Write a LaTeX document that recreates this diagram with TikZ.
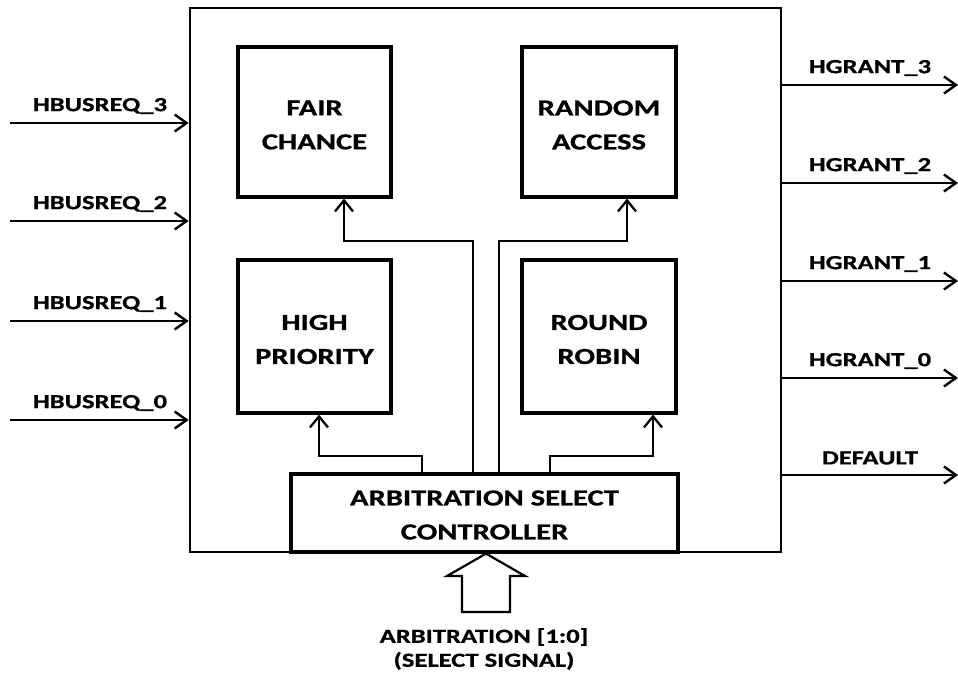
\documentclass[tikz,border=0pt]{standalone}
\usepackage{fontspec}
\setmainfont{Carlito}[FakeStretch=1.33,BoldFeatures={FakeBold=0.7}]
\usetikzlibrary{arrows.meta}
\begin{document}
\begin{tikzpicture}[x=1pt,y=-1pt,
  block/.style={draw,line width=3.2pt,inner sep=0pt},
  blocktext/.style={align=center,inner sep=0pt,
    font=\fontsize{23}{34}\selectfont\bfseries},
  frame/.style={draw,line width=2.6pt,inner sep=0pt},
  sig/.style={line width=2.3pt,-{Straight Barb[length=11pt,width=18pt,line width=2.3pt]}},
  wire/.style={line width=2.4pt,-{Straight Barb[length=12pt,width=17pt,line width=2.4pt]}},
  lbl/.style={font=\fontsize{20}{24}\selectfont\bfseries,inner sep=0pt}]
\useasboundingbox (0,0) rectangle (958,672);
\fill[white] (0,0) rectangle (958,672);

% outer arbiter frame
\node[frame,minimum width=591pt,minimum height=544pt] (outer) at (485.5,280) {};

% arbitration schemes
\node[block,minimum width=153pt,minimum height=150pt] (fair) at (314.5,122) {};
\node[block,minimum width=154pt,minimum height=150pt] (rand) at (599,122) {};
\node[block,minimum width=153pt,minimum height=153pt] (high) at (314.5,336.5) {};
\node[block,minimum width=154pt,minimum height=153pt] (rr) at (599,336.5) {};
\node[block,minimum width=387pt,minimum height=78pt] (ctrl) at (484.5,513) {};
\node[blocktext] (fairt) at ([yshift=-3pt]fair.center) {FAIR\\CHANCE};
\node[blocktext] (randt) at ([yshift=-3pt]rand.center) {RANDOM\\ACCESS};
\node[blocktext] (hight) at ([yshift=-3pt]high.center) {HIGH\\PRIORITY};
\node[blocktext] (rrt) at ([yshift=-3pt]rr.center) {ROUND\\ROBIN};
\node[blocktext] (ctrlt) at ([yshift=-2pt]ctrl.center) {ARBITRATION SELECT\\CONTROLLER};

% select lines from the controller
\draw[sig] (ctrl.north -| 473,0) |- (344,241) -- (fair.south -| 344,0);
\draw[sig] (ctrl.north -| 499,0) |- (627,241) -- (rand.south -| 627,0);
\draw[sig] (ctrl.north -| 422,0) |- (319,456) -- (high.south -| 319,0);
\draw[sig] (ctrl.north -| 550,0) |- (653,456) -- (rr.south -| 653,0);

% bus request inputs
\foreach \n/\y/\ly in {3/123/106, 2/221/204, 1/321/304, 0/420/403}{
  \coordinate (req\n) at (10,\y);
  \draw[wire] (req\n) -- (req\n -| outer.west);
  \node[lbl] at (100,\ly) {HBUSREQ\_\n};
}

% grant outputs
\foreach \n/\t/\y/\ly in {g3/HGRANT\_3/85/68, g2/HGRANT\_2/183/166, g1/HGRANT\_1/281/264, g0/HGRANT\_0/378/361, gd/DEFAULT/475/458}{
  \coordinate (\n) at (958,\y);
  \draw[wire] (\n -| outer.east) -- (\n);
  \node[lbl] at (870,\ly) {\t};
}

% select signal input (hollow arrow)
\draw[line width=2.2pt,line join=miter,fill=white]
  (ctrl.south -| 486,0) -- (525,576) -- (510,576) -- (510,612) -- (462,612)
  -- (462,576) -- (447,576) -- cycle;
\node[lbl,align=center] (sel) at (484,649) {ARBITRATION [1:0]\\(SELECT SIGNAL)};
\end{tikzpicture}
\end{document}
